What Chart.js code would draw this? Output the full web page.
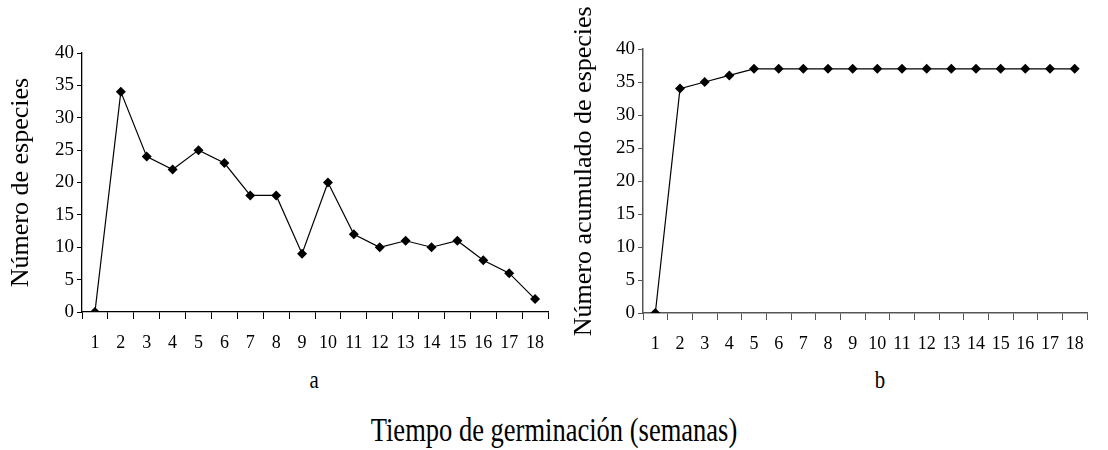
<!DOCTYPE html>
<html>
<head>
<meta charset="utf-8">
<script src="https://cdn.jsdelivr.net/npm/chart.js@4/dist/chart.umd.min.js"></script>
<style>
  body { margin: 0; background: #fff; }
  #wrap { position: relative; width: 1108px; height: 450px; overflow: hidden; font-family: "Liberation Serif", "Times New Roman", serif; color: #000; }
  canvas { position: absolute; top: 0; }
  .lbl { position: absolute; font-size: 26px; transform: translate(-50%, -50%) scaleX(0.8); }
  #xtitle { position: absolute; left: 0; width: 1108px; top: 411px; text-align: center; font-size: 34px; transform: scaleX(0.78); }
</style>
</head>
<body>
<div id="wrap">
  <canvas id="chart-a" width="560" height="360" style="left:0"></canvas>
  <canvas id="chart-b" width="548" height="360" style="left:560px"></canvas>
  <div class="lbl" style="left:314px; top:380px">a</div>
  <div class="lbl" style="left:880px; top:380px">b</div>
  <div id="xtitle">Tiempo de germinación (semanas)</div>
</div>
<script>
const weeks = ["1", "2", "3", "4", "5", "6", "7", "8", "9", "10", "11", "12", "13", "14", "15", "16", "17", "18"];
const speciesPerWeek = [0, 34, 24, 22, 25, 23, 18, 18, 9, 20, 12, 10, 11, 10, 11, 8, 6, 2];
const speciesCumulative = [0, 34, 35, 36, 37, 37, 37, 37, 37, 37, 37, 37, 37, 37, 37, 37, 37, 37];
const yTicks = [0, 5, 10, 15, 20, 25, 30, 35, 40];

const serif = "'Liberation Serif', 'Times New Roman', serif";

function makeChart(id, values, yTitle, opts) {
    const ctx = document.getElementById(id).getContext('2d');
    return new Chart(ctx, {
        type: 'line',
        data: {
            labels: weeks,
            datasets: [{
                data: values,
                borderColor: "#000",
                backgroundColor: "#000",
                borderWidth: 1.2,
                pointStyle: 'rectRot',
                pointRadius: 5,
                pointBorderWidth: 0,
                tension: 0,
            }],
        },
        options: {
            responsive: false,
            animation: false,
            layout: { padding: { left: 0, top: opts.top, right: opts.right, bottom: 0 } },
            plugins: { legend: { display: false }, tooltip: { enabled: false } },
            scales: {
                x: {
                    offset: true,
                    grid: { offset: true, drawOnChartArea: false, drawTicks: true, tickLength: 7, color: opts.axisColor },
                    border: { color: opts.axisColor, width: opts.axisWidth },
                    ticks: { color: "#000", font: { family: serif, size: 18 }, padding: 13, maxRotation: 0, autoSkip: false },
                    afterFit: (s) => { s.height = opts.xh; },
                },
                y: {
                    min: 0, max: 40,
                    afterBuildTicks: (s) => { s.ticks = yTicks.map(v => ({ value: v })); },
                    grid: { drawOnChartArea: false, drawTicks: true, tickLength: 5, color: opts.axisColor },
                    border: { color: opts.axisColor, width: opts.axisWidth },
                    ticks: { color: "#000", font: { family: serif, size: 19 }, padding: 3 },
                    title: { display: true, text: yTitle, color: "#000", font: { family: serif, size: 26 }, padding: { top: opts.titlePad, bottom: 0 } },
                    afterFit: (s) => { s.width = opts.yw; },
                },
            },
        },
    });
}

makeChart('chart-a', speciesPerWeek, "Número de especies",
    { top: 53, right: 12, xh: 48, yw: 82, titlePad: 6, axisColor: "#000", axisWidth: 1.3 });
makeChart('chart-b', speciesCumulative, "   Número acumulado de especies",
    { top: 49, right: 21, xh: 47, yw: 83, titlePad: 9, axisColor: "#555", axisWidth: 1.5 });
</script>
</body>
</html>
